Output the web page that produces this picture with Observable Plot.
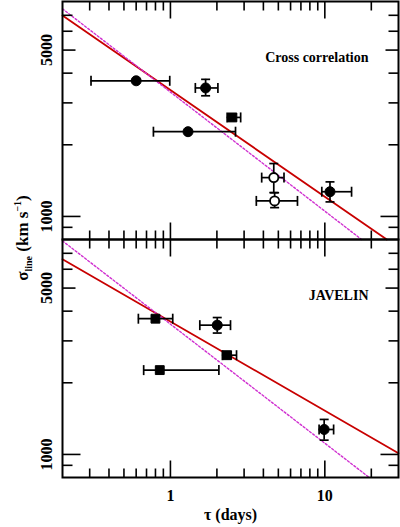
<!DOCTYPE html>
<html><head><meta charset="utf-8">
<script src="https://cdn.jsdelivr.net/npm/d3@7"></script>
<script src="https://cdn.jsdelivr.net/npm/@observablehq/plot@0.6"></script>
<style>
body{margin:0;background:#fff;}
#chart{position:relative;width:400px;height:527px;background:#fff;}
#chart svg{position:absolute;left:0;background:transparent;overflow:visible;}
</style></head><body><div id="chart"></div>
<script>
// ---- Data: Cross correlation panel ----
const ccfTau      = [0.60, 1.30, 1.69, 2.52, 4.67, 4.73, 10.8];
const ccfTauLo    = [0.306, 0.776, 1.45, 2.33, 3.90, 3.60, 9.56];
const ccfTauHi    = [0.99, 2.64, 2.03, 2.85, 5.44, 6.65, 14.9];
const ccfSigma    = [3715, 2270, 3466, 2606, 1456, 1162, 1270];
const ccfSigmaLo  = [null, null, 3213, 2530, 1259, 1089, 1151];
const ccfSigmaHi  = [null, null, 3767, 2690, 1668, 1258, 1397];
const ccfMarker   = ["filled", "filled", "filled", "square", "open", "open", "filled"];
const ccfFitTau   = [0.2, 25.2];
const ccfFitSigma = [6980, 800];
const ccfHalfTau  = [0.2, 17.3];
const ccfHalfSigma= [7450, 800];

// ---- Data: JAVELIN panel ----
const javTau      = [0.80, 0.853, 2.01, 2.33, 9.9];
const javTauLo    = [0.62, 0.671, 1.55, 2.17, 9.18];
const javTauHi    = [1.035, 2.06, 2.45, 2.68, 11.4];
const javSigma    = [3718, 2261, 3493, 2612, 1273];
const javSigmaLo  = [null, null, 3236, 2530, 1148];
const javSigmaHi  = [null, null, 3760, 2700, 1403];
const javMarker   = ["square", "square", "filled", "square", "filled"];
const javFitTau   = [0.2, 30];
const javFitSigma = [6607, 1012];
const javHalfTau  = [0.2, 19.4];
const javHalfSigma= [7890, 800];

// ---- Axes ----
const xDomain = [0.2, 30];
const yDomain = [800, 8000];
const xMajor = [1, 10];
const xMinor = [0.3, 0.4, 0.5, 0.6, 0.7, 0.8, 0.9, 2, 3, 4, 5, 6, 7, 8, 9, 20];
const yTickLong = [1000];
const yTickMid = [5000];
const yTickShort = [900, 2000, 3000, 4000, 6000, 7000];
const yLabeled = [1000, 5000];
const panelLabels = ["Cross correlation", "JAVELIN"];
const xTitle = "τ (days)";

const FONT = "Liberation Serif, Times New Roman, serif";
const RED = "#c80000";
const MAG = "#d030d0";

function seg(dx, dy) {
  return {draw(ctx, size){ const L = Math.sqrt(size/Math.PI); ctx.moveTo(0,0); ctx.lineTo(dx*L, dy*L); }};
}
const vbar = {draw(ctx, size){ const r = Math.sqrt(size/Math.PI); ctx.moveTo(0,-r); ctx.lineTo(0,r); }};
const hbar = {draw(ctx, size){ const r = Math.sqrt(size/Math.PI); ctx.moveTo(-r,0); ctx.lineTo(r,0); }};
const tUp = seg(0,-1), tDown = seg(0,1), tRight = seg(1,0), tLeft = seg(-1,0);

function rowsOf(tau, lo, hi, s, slo, shi, m) {
  return tau.map((v, i) => ({tau: v, lo: lo[i], hi: hi[i], sigma: s[i], slo: slo[i], shi: shi[i], marker: m[i]}));
}
function lineOf(ts_, ss_) { return ts_.map((v, i) => ({tau: v, sigma: ss_[i]})); }

const W = 400, mL = 62, mR = 2;
function base(cfg, marks) {
  const svg = Plot.plot({
    width: W, height: cfg.height,
    marginLeft: mL, marginRight: mR, marginTop: cfg.marginTop, marginBottom: cfg.marginBottom,
    x: {type: "log", domain: xDomain, axis: null},
    y: {type: "log", domain: yDomain, axis: null},
    style: {background: "transparent", overflow: "visible"},
    marks
  });
  svg.style.top = cfg.top + "px";
  return svg;
}

function panel(cfg) {
  const rows = cfg.rows;
  const yerr = rows.filter(d => d.slo != null);
  const marks = [
    Plot.line(cfg.fit, {x: "tau", y: "sigma", stroke: RED, strokeWidth: 1.8}),
    Plot.line(cfg.half, {x: "tau", y: "sigma", stroke: MAG, strokeWidth: 1.4, strokeDasharray: "2,2"}),
    Plot.ruleY(rows, {y: "sigma", x1: "lo", x2: "hi", stroke: "black", strokeWidth: 1.7}),
    Plot.ruleX(yerr, {x: "tau", y1: "slo", y2: "shi", stroke: "black", strokeWidth: 1.7}),
    Plot.dot(rows, {x: "lo", y: "sigma", symbol: vbar, r: 5, stroke: "black", strokeWidth: 1.7, fill: "none"}),
    Plot.dot(rows, {x: "hi", y: "sigma", symbol: vbar, r: 5, stroke: "black", strokeWidth: 1.7, fill: "none"}),
    Plot.dot(yerr, {x: "tau", y: "slo", symbol: hbar, r: 4.5, stroke: "black", strokeWidth: 1.7, fill: "none"}),
    Plot.dot(yerr, {x: "tau", y: "shi", symbol: hbar, r: 4.5, stroke: "black", strokeWidth: 1.7, fill: "none"}),
    Plot.dot(rows.filter(d => d.marker === "filled"), {x: "tau", y: "sigma", r: 5, fill: "black", stroke: "black", strokeWidth: 1}),
    Plot.dot(rows.filter(d => d.marker === "square"), {x: "tau", y: "sigma", symbol: "square", r: 5, fill: "black", stroke: "black", strokeWidth: 1}),
    Plot.dot(rows.filter(d => d.marker === "open"), {x: "tau", y: "sigma", r: 4.6, fill: "white", stroke: "black", strokeWidth: 1.8}),
    Plot.text(yLabeled, {y: d => d, text: d => String(d), frameAnchor: "left", dx: -16, rotate: -90, textAnchor: "middle", lineAnchor: "middle", fontFamily: FONT, fontWeight: "bold", fontSize: 16, fill: "black"}),
    Plot.text([cfg.label], {text: d => d, frameAnchor: "top-right", dx: -30, dy: 56, textAnchor: "end", lineAnchor: "middle", fontFamily: FONT, fontWeight: "bold", fontSize: 14, fill: "black"})
  ];
  if (cfg.bottom) {
    marks.push(Plot.text(xMajor, {x: d => d, text: d => String(d), frameAnchor: "bottom", dy: 18, lineAnchor: "middle", fontFamily: FONT, fontWeight: "bold", fontSize: 16, fill: "black"}));
    marks.push(Plot.text([xTitle], {text: d => d, frameAnchor: "bottom", dy: 37, lineAnchor: "middle", fontFamily: FONT, fontWeight: "bold", fontSize: 16, fill: "black"}));
  }
  return base(cfg, marks);
}

// separate layer with the frame and inward ticks on all four sides
function tickLayer(cfg) {
  const tk = {stroke: "black", strokeWidth: 1.6, fill: "none"};
  const marks = [];
  const xt = (vals, len) => {
    marks.push(Plot.dot(vals, {...tk, x: d => d, frameAnchor: "bottom", symbol: tUp, r: len}));
    marks.push(Plot.dot(vals, {...tk, x: d => d, frameAnchor: "top", symbol: tDown, r: len}));
  };
  const yt = (vals, len) => {
    marks.push(Plot.dot(vals, {...tk, y: d => d, frameAnchor: "left", symbol: tRight, r: len}));
    marks.push(Plot.dot(vals, {...tk, y: d => d, frameAnchor: "right", symbol: tLeft, r: len}));
  };
  xt(xMinor, 9); xt(xMajor, 17);
  yt(yTickShort, 10); yt(yTickMid, 13); yt(yTickLong, 18);
  marks.push(Plot.frame({stroke: "black", strokeWidth: 2}));
  return base(cfg, marks);
}

const chart = document.getElementById("chart");
const upperCfg = {
  rows: rowsOf(ccfTau, ccfTauLo, ccfTauHi, ccfSigma, ccfSigmaLo, ccfSigmaHi, ccfMarker),
  fit: lineOf(ccfFitTau, ccfFitSigma), half: lineOf(ccfHalfTau, ccfHalfSigma),
  label: panelLabels[0], top: 0, height: 240, marginTop: 1, marginBottom: 1, bottom: false
};
const lowerCfg = {
  rows: rowsOf(javTau, javTauLo, javTauHi, javSigma, javSigmaLo, javSigmaHi, javMarker),
  fit: lineOf(javFitTau, javFitSigma), half: lineOf(javHalfTau, javHalfSigma),
  label: panelLabels[1], top: 238, height: 289, marginTop: 1, marginBottom: 50, bottom: true
};
chart.appendChild(panel(upperCfg));
chart.appendChild(panel(lowerCfg));
chart.appendChild(tickLayer(upperCfg));
chart.appendChild(tickLayer(lowerCfg));

// y-axis title with subscript / superscript
const NS = "http://www.w3.org/2000/svg";
const ysvg = document.createElementNS(NS, "svg");
ysvg.setAttribute("width", 60); ysvg.setAttribute("height", 527);
ysvg.style.top = "0px";
const ylab = document.createElementNS(NS, "text");
ylab.setAttribute("transform", "translate(28,238) rotate(-90)");
ylab.setAttribute("text-anchor", "middle");
ylab.setAttribute("font-family", FONT);
ylab.setAttribute("font-weight", "bold");
ylab.setAttribute("font-size", 17);
function addSpan(str, opts) {
  const s = document.createElementNS(NS, "tspan");
  s.textContent = str;
  for (const k in (opts || {})) s.setAttribute(k, opts[k]);
  ylab.appendChild(s);
}
addSpan("σ");
addSpan("line", {"font-size": 10, dy: 4});
addSpan(" (km s", {dy: -4});
addSpan("−1", {"font-size": 10, dy: -7});
addSpan(")", {dy: 7});
ysvg.appendChild(ylab);
chart.appendChild(ysvg);
</script></body></html>
